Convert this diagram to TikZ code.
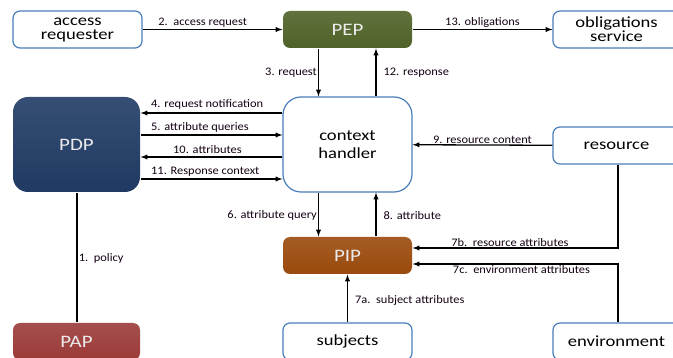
\documentclass[tikz,border=0pt]{standalone}
\usepackage{fontspec}
\setmainfont{Carlito}[FakeStretch=1.08]
\newfontfamily\boxfont{Carlito}[FakeStretch=1.2]
\usetikzlibrary{positioning, arrows}

\definecolor{boxblue}{HTML}{4A7EBB}
\definecolor{pepgreen}{HTML}{4F6228}
\definecolor{pipbrown}{HTML}{9A4A0C}
\definecolor{pdpblue}{HTML}{1F3A63}
\definecolor{papred}{HTML}{9B3B38}

\tikzset{
    box/.style={draw=boxblue, line width=1.2pt, rounded corners=7pt, fill=white,
        minimum width=129pt, minimum height=37pt, inner sep=0pt, align=center,
        font=\boxfont\fontsize{15.5}{14}\selectfont},
    agent/.style={box, draw=none, text=white!92!black, top color=#1!90!white, bottom color=#1,
        font=\boxfont\fontsize{17.5}{17.5}\selectfont},
    flow/.style={line width=1.3pt, -latex},
    link/.style={draw=black, line width=1.6pt},
    lbl/.style={font=\fontsize{11.5}{11.5}\selectfont, text=black!85!violet, inner sep=1pt},
}

\begin{document}
\begin{tikzpicture}[x=1pt, y=1pt]
        \useasboundingbox (0,0) rectangle (673,-358);
        \clip (0,0) rectangle (673,-358);

        \node[box] (requester) at (77.5,-29.5) {access\\requester};
        \node[agent=pepgreen] (PEP) at (347.5,-29.5) {PEP};
        \node[box, minimum width=127pt] (obligations) at (616.5,-29.5) {obligations\\service};
        \node[agent=pdpblue, rounded corners=15pt, minimum width=127pt, minimum height=95pt] (PDP) at (76.5,-144.5) {PDP};
        \node[box, rounded corners=18pt, minimum height=95pt, font=\boxfont\fontsize{15.5}{18}\selectfont] (handler) at (347.5,-144.5) {context\\handler};
        \node[box, minimum width=127pt] (resource) at (616.5,-145.5) {resource};
        \node[agent=pipbrown] (PIP) at (347.5,-255.5) {PIP};
        \node[agent=papred, minimum width=127pt] (PAP) at (76.5,-341.5) {PAP};
        \node[box] (subjects) at (347.5,-341.5) {subjects};
        \node[box, minimum width=127pt] (environment) at (616.5,-341.5) {environment};

        % PEP side
        \draw[flow] (requester) -- node[lbl, above, pos=0.43] {2.\ \ access request} (PEP);
        \draw[flow] (PEP) -- node[lbl, above] {13. obligations} (obligations);
        \draw[flow] ([xshift=-29pt]PEP.south) -- node[lbl, left] {3. request} ([xshift=-29pt]handler.north);
        \draw[flow] ([xshift=28.5pt]handler.north) -- node[lbl, right=6pt] {12. response} ([xshift=28.5pt]PEP.south);

        % PDP side
        \draw[flow] ([yshift=31.5pt]handler.west) -- ([yshift=31.5pt]PDP.east);
        \draw[flow] ([yshift=9.5pt]PDP.east) -- ([yshift=9.5pt]handler.west);
        \draw[flow] ([yshift=-12.5pt]handler.west) -- ([yshift=-12.5pt]PDP.east);
        \draw[flow] ([yshift=-34.5pt]PDP.east) -- ([yshift=-34.5pt]handler.west);
        \node[lbl, anchor=base west] (l4) at (150,-108) {4. request notification};
        \node[lbl, anchor=base west] (l5) at (150,-131) {5. attribute queries};
        \node[lbl, anchor=base west] (l10) at (172,-154) {10. attributes};
        \node[lbl, anchor=base west] (l11) at (150,-175) {11. Response context};
        \path[link] ([xshift=0.5pt]PDP.south) -- node[lbl, right, pos=0.51] {1.\ \ policy} ([xshift=0.5pt]PAP.north);

        % PIP side
        \draw[flow] (resource) -- node[lbl, above] {9. resource content} (handler);
        \draw[flow] ([xshift=-29pt]handler.south) -- node[lbl, left, pos=0.52] {6. attribute query} ([xshift=-29pt]PIP.north);
        \draw[flow] ([xshift=28.5pt]PIP.north) -- node[lbl, right=6pt, pos=0.48] {8. attribute} ([xshift=28.5pt]handler.south);
        \draw[flow] (subjects) -- node[lbl, right=6pt, pos=0.46] {7a.\ \ subject attributes} (PIP);
        \draw[flow] ([xshift=1.5pt]resource.south) |- node[lbl, above, pos=0.763] {7b.\ \ resource attributes} ([yshift=7.5pt]PIP.east);
        \draw[flow] ([xshift=1.5pt]environment.north) |- node[lbl, below, pos=0.735] {7c.\ \ environment attributes} ([yshift=-8.5pt]PIP.east);
\end{tikzpicture}
\end{document}
